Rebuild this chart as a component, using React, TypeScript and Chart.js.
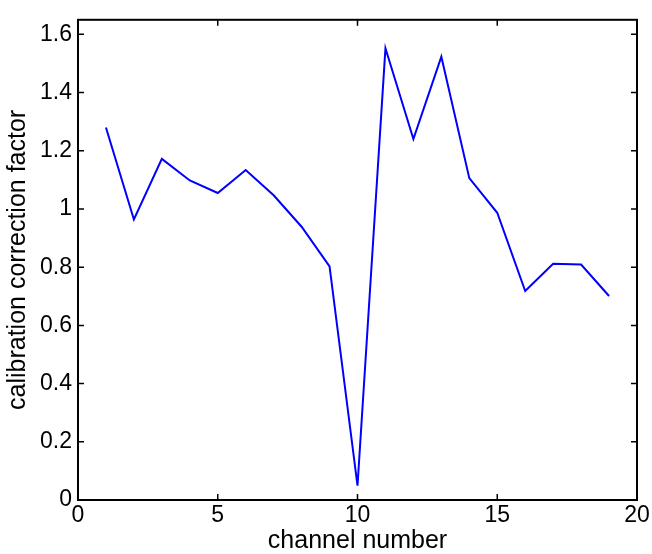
import React, { useEffect, useRef } from "react";
import { Chart, registerables } from "chart.js";

Chart.register(...registerables);

const channels = [1, 2, 3, 4, 5, 6, 7, 8, 9, 10, 11, 12, 13, 14, 15, 16, 17, 18, 19];
const correctionFactors = [
  1.28, 0.964, 1.172, 1.098, 1.055, 1.134, 1.047, 0.939, 0.803, 0.049,
  1.552, 1.24, 1.523, 1.106, 0.987, 0.718, 0.812, 0.809, 0.701,
];
const xTickValues = [0, 5, 10, 15, 20];
const yTickValues = [0, 0.2, 0.4, 0.6, 0.8, 1, 1.2, 1.4, 1.6];
const yTickLabels = ["0", "0.2", "0.4", "0.6", "0.8", "1", "1.2", "1.4", "1.6"];
const xTitle = "channel number";
const yTitle = "calibration correction factor";

const FONT = "Arial, 'Liberation Sans', Helvetica, sans-serif";

const boxPlugin = {
  id: "matlabBox",
  afterDraw(chart: any) {
    const { ctx, chartArea } = chart;
    const { left, right, top, bottom } = chartArea;
    const xs = chart.scales.x;
    const ys = chart.scales.y;
    const tl = 6;
    ctx.save();
    ctx.strokeStyle = "#000";
    ctx.lineWidth = 1.5;
    ctx.beginPath();
    for (const v of xTickValues) {
      const px = xs.getPixelForValue(v);
      ctx.moveTo(px, bottom);
      ctx.lineTo(px, bottom - tl);
      ctx.moveTo(px, top);
      ctx.lineTo(px, top + tl);
    }
    for (const v of yTickValues) {
      const py = ys.getPixelForValue(v);
      ctx.moveTo(left, py);
      ctx.lineTo(left + tl, py);
      ctx.moveTo(right, py);
      ctx.lineTo(right - tl, py);
    }
    ctx.stroke();
    ctx.lineWidth = 2;
    ctx.strokeRect(left, top, right - left, bottom - top);
    ctx.restore();
  },
};

export default function App() {
  const ref = useRef<HTMLCanvasElement | null>(null);

  useEffect(() => {
    if (!ref.current) return;
    const chart = new Chart(ref.current, {
      type: "line",
      data: {
        datasets: [
          {
            data: channels.map((c, i) => ({ x: c, y: correctionFactors[i] })),
            borderColor: "#0000ff",
            backgroundColor: "#0000ff",
            borderWidth: 2,
            pointRadius: 0,
            tension: 0,
            fill: false,
          },
        ],
      },
      options: {
        responsive: false,
        animation: false,
        layout: { padding: { top: 15, right: 15, left: 0, bottom: 0 } },
        plugins: {
          legend: { display: false },
          tooltip: { enabled: false },
        },
        scales: {
          x: {
            type: "linear",
            min: 0,
            max: 20,
            afterFit: (s: any) => {
              s.height = 54;
            },
            afterBuildTicks: (s: any) => {
              s.ticks = xTickValues.map((v) => ({ value: v }));
            },
            grid: { display: false, drawTicks: false },
            border: { display: false },
            ticks: {
              color: "#000",
              padding: 2,
              maxRotation: 0,
              font: { family: FONT, size: 23 },
              callback: (v: any) => String(v),
            },
            title: {
              display: true,
              text: xTitle,
              color: "#000",
              font: { family: FONT, size: 25, lineHeight: 1 },
              padding: { top: 0, bottom: 0 },
            },
          },
          y: {
            type: "linear",
            min: 0,
            max: 1.65,
            afterFit: (s: any) => {
              s.width = 78;
            },
            afterBuildTicks: (s: any) => {
              s.ticks = yTickValues.map((v) => ({ value: v }));
            },
            grid: { display: false, drawTicks: false },
            border: { display: false },
            ticks: {
              color: "#000",
              padding: 6,
              font: { family: FONT, size: 23 },
              callback: (v: any) => {
                const i = yTickValues.findIndex((t) => Math.abs(t - Number(v)) < 1e-6);
                return i >= 0 ? yTickLabels[i] : "";
              },
            },
            title: {
              display: true,
              text: yTitle,
              color: "#000",
              font: { family: FONT, size: 25, lineHeight: 1 },
              padding: { top: 6, bottom: 0 },
            },
          },
        },
      },
      plugins: [boxPlugin],
    });
    return () => chart.destroy();
  }, []);

  return (
    <div style={{ position: "fixed", left: 0, top: 0, width: 652, height: 554, background: "#fff" }}>
      <canvas ref={ref} width={652} height={554} style={{ width: 652, height: 554 }} />
    </div>
  );
}
